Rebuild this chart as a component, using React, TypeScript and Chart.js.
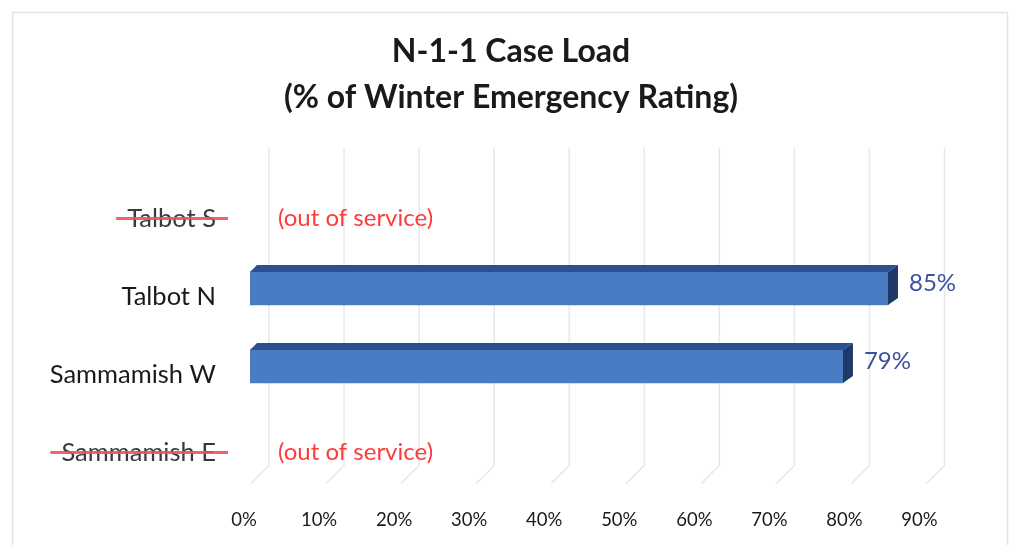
import React, { useEffect, useRef } from "react";
import { Chart, registerables } from "chart.js";

Chart.register(...registerables);

const categories = ["Talbot S", "Talbot N", "Sammamish W", "Sammamish E"];
const loadValues: (number | null)[] = [null, 85, 79, null];
const outOfService = [true, false, false, true];
const annotations = ["(out of service)", "", "", "(out of service)"];
const xTicks = [0, 10, 20, 30, 40, 50, 60, 70, 80, 90];
const titleLines = ["N-1-1 Case Load", "(% of Winter Emergency Rating)"];

const FONT = "Lato, 'Open Sans', 'Liberation Sans', sans-serif";
const FRONT = "#4a7cc4";
const TOP = "#2c5190";
const SIDE = "#1f3a68";
const DEPTH_X = 10;
const DEPTH_Y = 7;

const framePlugin = {
  id: "frame",
  beforeDraw(chart: any) {
    const ctx = chart.ctx;
    ctx.save();
    ctx.fillStyle = "#ffffff";
    ctx.fillRect(0, 0, chart.width, chart.height);
    ctx.strokeStyle = "#e4e4e4";
    ctx.lineWidth = 1.5;
    ctx.strokeRect(12.5, 12.5, chart.width - 19, chart.height);
    // title
    ctx.fillStyle = "#1a1a1a";
    ctx.font = `bold 32px ${FONT}`;
    ctx.textAlign = "center";
    ctx.textBaseline = "middle";
    titleLines.forEach((t, i) => ctx.fillText(t, 511, 52 + i * 46));
    ctx.restore();
  },
};

const gridPlugin = {
  id: "grid3d",
  beforeDatasetsDraw(chart: any) {
    const { ctx, chartArea } = chart;
    const xs = chart.scales.x;
    ctx.save();
    ctx.strokeStyle = "#e8e8e8";
    ctx.lineWidth = 1.5;
    xTicks.forEach((v) => {
      const px = xs.getPixelForValue(v);
      ctx.beginPath();
      ctx.moveTo(px + 19, chartArea.top - 24);
      ctx.lineTo(px + 19, chartArea.bottom - 18);
      ctx.lineTo(px + 1, chartArea.bottom);
      ctx.stroke();
    });
    ctx.restore();
  },
};

const bar3dPlugin = {
  id: "bar3d",
  afterDatasetsDraw(chart: any) {
    const ctx = chart.ctx;
    const meta = chart.getDatasetMeta(0);
    ctx.save();
    meta.data.forEach((bar: any, i: number) => {
      const v = loadValues[i];
      if (v == null) return;
      const { x, y, base, height } = bar.getProps(["x", "y", "base", "height"], true);
      const top = y - height / 2;
      const bottom = y + height / 2;
      ctx.fillStyle = TOP;
      ctx.beginPath();
      ctx.moveTo(base, top);
      ctx.lineTo(base + DEPTH_X * 0.7, top - DEPTH_Y);
      ctx.lineTo(x + DEPTH_X, top - DEPTH_Y);
      ctx.lineTo(x, top);
      ctx.closePath();
      ctx.fill();
      ctx.fillStyle = SIDE;
      ctx.beginPath();
      ctx.moveTo(x, top);
      ctx.lineTo(x + DEPTH_X, top - DEPTH_Y);
      ctx.lineTo(x + DEPTH_X, bottom - DEPTH_Y);
      ctx.lineTo(x, bottom);
      ctx.closePath();
      ctx.fill();
      ctx.fillStyle = "#3d52a2";
      ctx.font = `24px ${FONT}`;
      ctx.textAlign = "left";
      ctx.textBaseline = "middle";
      ctx.fillText(`${v}%`, x + 21, y - 5);
    });
    ctx.restore();
  },
};

const labelPlugin = {
  id: "labelDecor",
  afterDraw(chart: any) {
    const ctx = chart.ctx;
    const ys = chart.scales.y;
    const xs = chart.scales.x;
    ctx.save();
    categories.forEach((c, i) => {
      const cy = ys.getPixelForValue(i) + 8;
      if (annotations[i]) {
        ctx.fillStyle = "#ff3a3a";
        ctx.font = `24px ${FONT}`;
        ctx.textAlign = "left";
        ctx.textBaseline = "middle";
        ctx.fillText(annotations[i], xs.getPixelForValue(0) + 28, cy);
      }
      if (outOfService[i]) {
        ctx.font = `25.5px ${FONT}`;
        const w = ctx.measureText(c).width;
        const right = ys.right - 34;
        ctx.strokeStyle = "rgba(238,80,92,0.9)";
        ctx.lineWidth = 3;
        ctx.beginPath();
        ctx.moveTo(right - w - 11, cy);
        ctx.lineTo(right + 12, cy);
        ctx.stroke();
      }
    });
    ctx.restore();
  },
};

export default function App() {
  const ref = useRef<HTMLCanvasElement | null>(null);
  useEffect(() => {
    document.body.style.margin = "0";
    if (!ref.current) return;
    const chart = new Chart(ref.current, {
      type: "bar",
      data: {
        labels: categories,
        datasets: [
          {
            data: loadValues as any,
            backgroundColor: FRONT,
            borderWidth: 0,
            barThickness: 33,
          },
        ],
      },
      options: {
        indexAxis: "y",
        responsive: false,
        animation: false,
        layout: { padding: { left: 0, right: 88.5, top: 171.5, bottom: 0 } },
        plugins: {
          legend: { display: false },
          tooltip: { enabled: false },
          title: { display: false },
        },
        scales: {
          x: {
            min: 0,
            max: 90,
            grid: { display: false, drawTicks: false },
            border: { display: false },
            ticks: {
              stepSize: 10,
              padding: 25.4,
              labelOffset: -6,
              color: "#1a1a1a",
              font: { family: FONT, size: 18.5 },
              callback: (v: any) => `${v}%`,
            },
            afterFit: (s: any) => {
              s.height = 61.5;
            },
          },
          y: {
            grid: { display: false, drawTicks: false },
            border: { display: false },
            ticks: {
              padding: 34,
              labelOffset: 8,
              color: (c: any) => (outOfService[c.index] ? "#3a3a3a" : "#1a1a1a"),
              font: { family: FONT, size: 25.5 },
            },
            afterFit: (s: any) => {
              s.width = 250;
            },
          },
        },
      },
      plugins: [framePlugin, gridPlugin, bar3dPlugin, labelPlugin],
    });
    return () => chart.destroy();
  }, []);
  return (
    <div style={{ width: 1014, height: 545 }}>
      <canvas ref={ref} width={1014} height={545} style={{ display: "block" }} />
    </div>
  );
}
